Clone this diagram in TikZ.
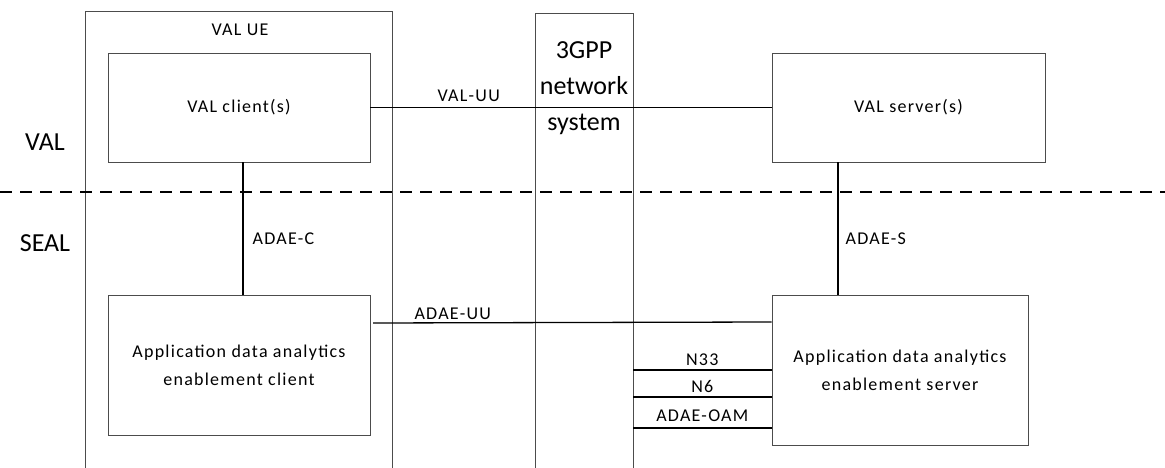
\documentclass[tikz,border=0pt]{standalone}
\usepackage{fontspec}
\setmainfont{Carlito}
\newfontfamily\spaced[LetterSpace=7]{Carlito}
\begin{document}
\begin{tikzpicture}[x=1pt,y=-1pt,
  box/.style={draw=black!70,line width=0.9pt,rectangle,inner sep=0pt,align=center,font=\spaced\fontsize{18}{28}\selectfont},
  lbl/.style={font=\spaced\fontsize{18}{20}\selectfont,inner sep=1pt},
  big/.style={font=\fontsize{26}{36}\selectfont,inner sep=0pt,align=center},
  con/.style={line width=1.3pt,black}]
\useasboundingbox (0,0) rectangle (1165,468);
% background frames
\draw[black!70,line width=0.8pt] (85,480) -- (85,11) -- (392,11) -- (392,480);
\draw[black!70,line width=0.8pt] (535,480) -- (535,13) -- (633,13) -- (633,480);
\node[lbl] (ue) at (240,30) {VAL UE};
\node[big] (net) at (584,88) {3GPP\\network\\system};
% dashed separator
\coordinate (dl) at (0,192);
\coordinate (dr) at (1165,192);
\draw[dashed,line width=1.2pt,dash pattern=on 12pt off 8pt] (dl) -- (dr);
\node[big] (val) at (45,142) {VAL};
\node[big] (seal) at (45,243) {SEAL};
% boxes
\node[box,minimum width=262pt,minimum height=109pt] (vc) at (239,107.5) {VAL client(s)};
\node[box,minimum width=273pt,minimum height=109pt] (vs) at (908.5,107.5) {VAL server(s)};
\node[box,minimum width=262pt,minimum height=140pt] (ac) at (239,365) {Application data analytics\\enablement client};
\node[box,minimum width=256pt,minimum height=150pt] (as) at (900,370) {Application data analytics\\enablement server};
% connectors
\draw[con] (vc.east) -- (vs.west) node[lbl,pos=0.245,above=4pt] {VAL-UU};
\draw[con] (vc.south -| 243,0) -- (ac.north -| 243,0) node[lbl,midway,right=8pt,yshift=-10pt] {ADAE-C};
\draw[con] (vs.south -| 838,0) -- (as.north -| 838,0) node[lbl,midway,right=6pt,yshift=-10pt] {ADAE-S};
\coordinate (uu) at (373,323);
\draw[con] (uu) -- (as.west |- 0,322) node[lbl,pos=0.2,above=2pt] {ADAE-UU};
\coordinate (n33) at (633,370);
\coordinate (n6) at (633,397);
\coordinate (oam) at (633,428);
\draw[con] (n33) -- (as.west |- n33) node[lbl,midway,above=3pt] {N33};
\draw[con] (n6) -- (as.west |- n6) node[lbl,midway,above=3pt] {N6};
\draw[con] (oam) -- (as.west |- oam) node[lbl,midway,above=5pt] {ADAE-OAM};
\end{tikzpicture}
\end{document}
